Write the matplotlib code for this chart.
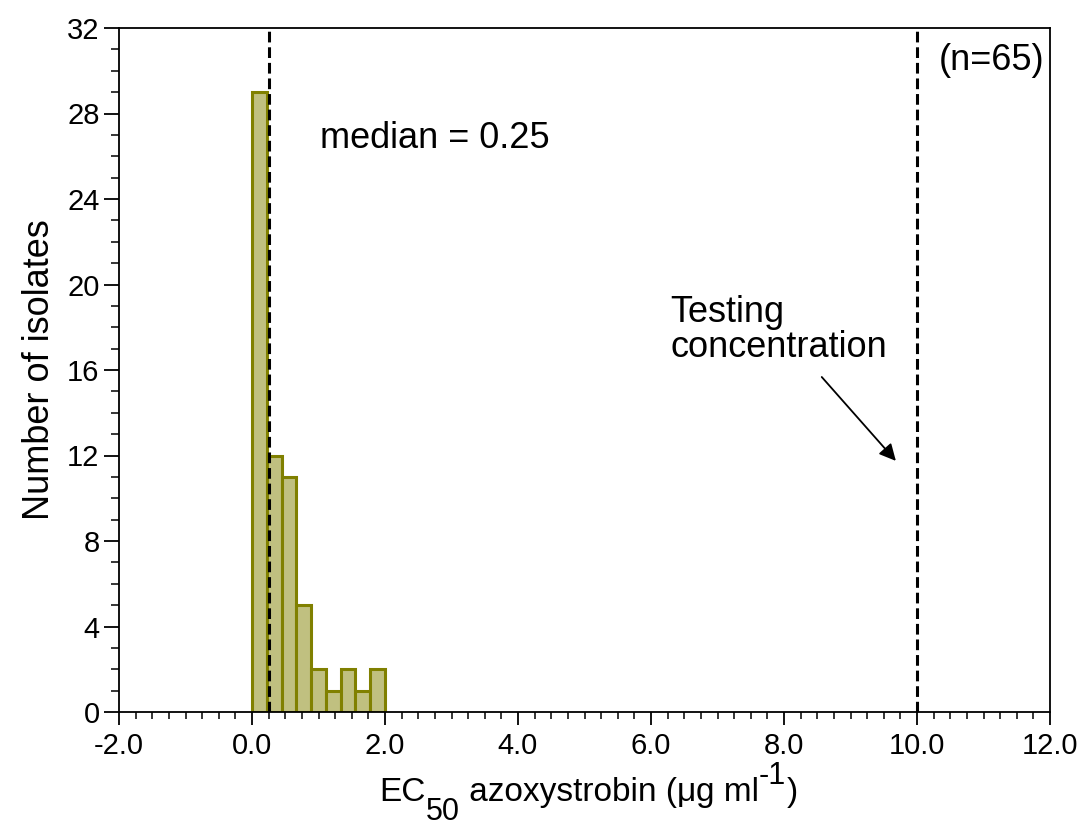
import matplotlib
matplotlib.use("Agg")
import matplotlib.pyplot as plt
from matplotlib.ticker import MultipleLocator, FormatStrFormatter
import numpy as np

plt.rcParams["font.family"] = ["Liberation Sans", "DejaVu Sans"]

# Histogram of EC50 values: 9 equal bins spanning 0-2 ug/ml
bin_edges = np.linspace(0.0, 2.0, 10)
counts = [29, 12, 11, 5, 2, 1, 2, 1, 2]
median_value = 0.25
testing_conc = 10.0
n_isolates = 65

W, H = 1086, 827
fig = plt.figure(figsize=(W / 100, H / 100), dpi=100)
ax = fig.add_axes([119 / W, 1 - 712 / H, (1050 - 119) / W, (712 - 28) / H])

widths = np.diff(bin_edges)
ax.bar(bin_edges[:-1], counts, width=widths, align="edge",
       color="#c0c080", edgecolor="#808000", linewidth=2.2, zorder=2)

for xv in (median_value, testing_conc):
    ax.axvline(xv, color="black", linestyle=(0, (3.5, 1.6)), linewidth=2.2, zorder=3)

ax.set_xlim(-2.0, 12.0)
ax.set_ylim(0, 32)
ax.xaxis.set_major_locator(MultipleLocator(2.0))
ax.xaxis.set_minor_locator(MultipleLocator(0.25))
ax.xaxis.set_major_formatter(FormatStrFormatter("%.1f"))
ax.yaxis.set_major_locator(MultipleLocator(4))
ax.yaxis.set_minor_locator(MultipleLocator(1))

ax.tick_params(axis="both", which="major", direction="out", width=1.3, labelsize=21)
ax.tick_params(axis="y", which="major", length=11, pad=3)
ax.tick_params(axis="x", which="major", length=9.5, pad=5)
ax.tick_params(axis="y", which="minor", direction="out", length=6, width=1.1)
ax.tick_params(axis="x", which="minor", direction="out", length=5, width=1.1)
for sp in ax.spines.values():
    sp.set_linewidth(1.3)

ax.set_ylabel("Number of isolates", fontsize=26, labelpad=7)

ax.text(1.02, 26.85, "median = 0.25", fontsize=26, ha="left", va="center")
ax.text(10.32, 30.5, f"(n={n_isolates})", fontsize=26, ha="left", va="center")
ax.text(6.29, 17.87, "Testing\nconcentration", fontsize=26, ha="left", va="center",
        linespacing=1.0)
ax.annotate("", xy=(9.71, 11.65), xytext=(8.54, 15.77),
            arrowprops=dict(arrowstyle="-|>", color="black", lw=1.3,
                            mutation_scale=25))

# x-axis title assembled piecewise so the subscript and superscript can be large
pieces = [("EC", 24, 0), ("50", 22, -19), (" azoxystrobin (", 24, 0),
          ("\u03bc", 24, 0), ("g ml", 24, 0), ("-1", 22, 17), (")", 24, 0)]
baseline_px = H - 801
renderer = fig.canvas.get_renderer()
texts = []
for s, size, dy in pieces:
    t = fig.text(0, (baseline_px + dy) / H, s, fontsize=size, ha="left",
                 va="baseline")
    texts.append(t)
extents = [t.get_window_extent(renderer) for t in texts]
total = sum(e.width for e in extents)
x0 = (119 + 1050) / 2 + 4 - total / 2
for t, e in zip(texts, extents):
    t.set_x(x0 / W)
    x0 += e.width

fig.savefig("out.png", dpi=100)
